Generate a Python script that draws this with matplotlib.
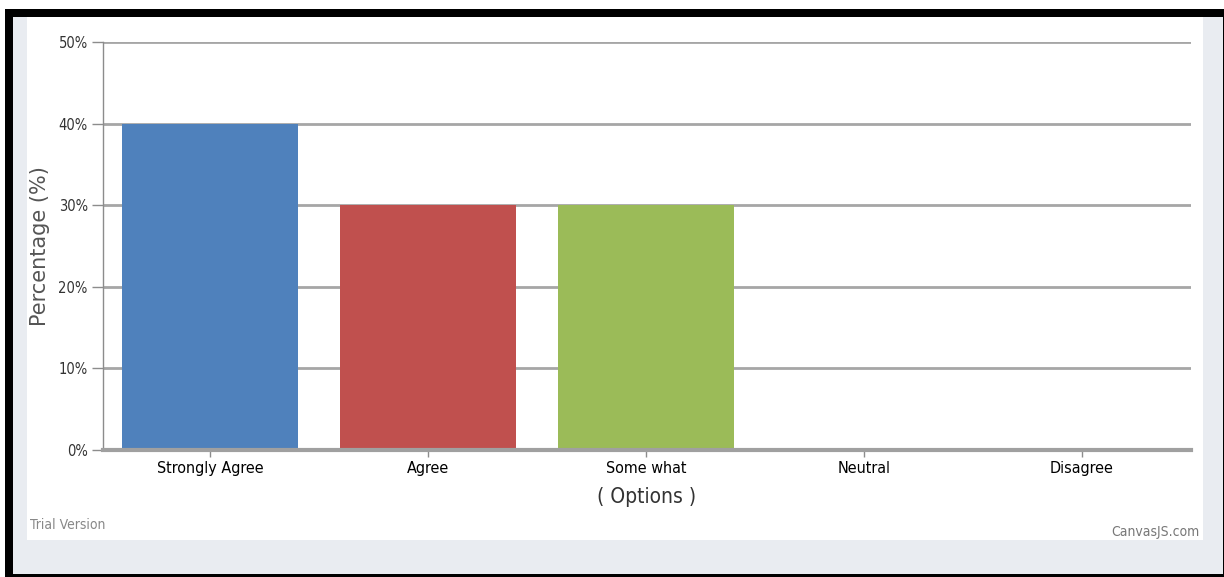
import matplotlib
matplotlib.use("Agg")
import matplotlib.pyplot as plt
from matplotlib.patches import Rectangle

categories = ["Strongly Agree", "Agree", "Some what", "Neutral", "Disagree"]
values = [40, 30, 30, 0, 0]
bar_colors = ["#4F81BC", "#C0504E", "#9BBB58", "#23BFAA", "#8064A1"]
y_ticks = [0, 10, 20, 30, 40, 50]

W, H = 1224, 577
COND = dict(fontfamily="DejaVu Sans", fontstretch="condensed")


def px_rect(x0, y0, x1, y1, color):
    # rectangle given in image pixels (origin top-left)
    return Rectangle((x0 / W, 1 - y1 / H), (x1 - x0) / W, (y1 - y0) / H,
                     transform=fig.transFigure, facecolor=color,
                     edgecolor="none", zorder=-10)


fig = plt.figure(figsize=(W / 100, H / 100), dpi=100, facecolor="white")
fig.patches.append(px_rect(5, 9, W, H, "black"))
fig.patches.append(px_rect(13, 17, 1223, 574, "#E9ECF1"))
fig.patches.append(px_rect(27, 17, 1203, 540, "white"))

ax = fig.add_axes([103 / W, 1 - 450 / H, (1191 - 103) / W, (450 - 42) / H])
ax.set_facecolor("none")

x = range(len(categories))
ax.bar(x, values, width=0.81, color=bar_colors[:len(categories)], zorder=3)

ax.set_xlim(-0.49, len(categories) - 0.5)
ax.set_ylim(0, 50)
ax.set_yticks(y_ticks)
ax.set_yticklabels([f"{t}%" for t in y_ticks], fontsize=10.5,
                   color="#333333", **COND)
ax.set_xticks(list(x))
ax.set_xticklabels(categories, fontsize=11.5, color="black", **COND)
ax.grid(axis="y", color="#A6A6A6", linewidth=2, zorder=1)

for side in ["top", "right"]:
    ax.spines[side].set_visible(False)
ax.spines["left"].set_color("#8C8C8C")
ax.spines["left"].set_linewidth(1)
ax.spines["bottom"].set_color("#A0A0A0")
ax.spines["bottom"].set_linewidth(3)
ax.spines["bottom"].set_zorder(4)
ax.tick_params(axis="y", length=8, width=1, color="#8C8C8C", pad=3)
ax.tick_params(axis="x", length=5, width=1, color="#8C8C8C", pad=3)

ax.set_ylabel("Percentage (%)", fontsize=15, color="#555555", labelpad=6)
ax.set_xlabel("( Options )", fontsize=15, color="#333333", labelpad=8, **COND)

fig.text(30 / W, 1 - 525 / H, "Trial Version", fontsize=10,
         color="#888888", va="center", ha="left", **COND)
fig.text(1200 / W, 1 - 532 / H, "CanvasJS.com", fontsize=10,
         color="#777777", va="center", ha="right", **COND)

fig.savefig("out.png", dpi=100)
plt.close(fig)
